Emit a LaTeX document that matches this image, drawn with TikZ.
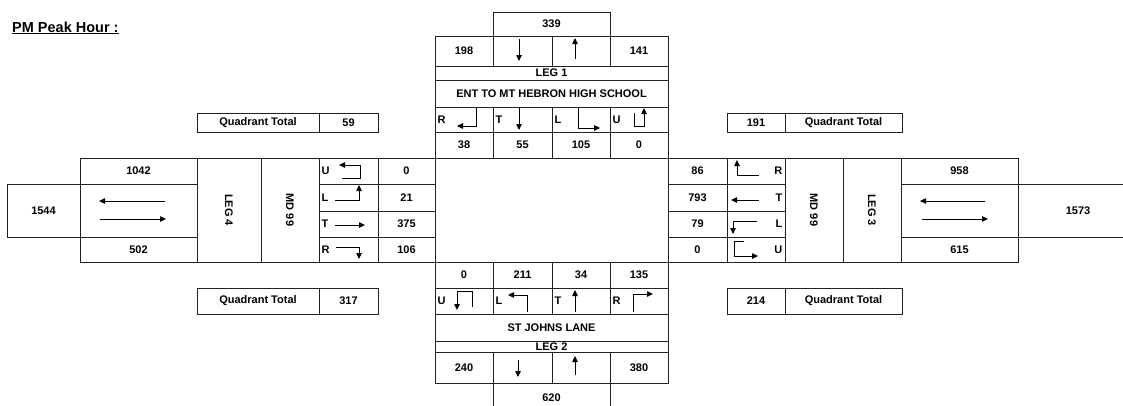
\documentclass[tikz,border=0pt]{standalone}
\usepackage{fontspec}
\setmainfont{Liberation Sans}
\usetikzlibrary{positioning,arrows.meta}
\definecolor{grid}{HTML}{222222}
\newcommand{\cellbox}[6]{\node[cell,minimum width={(#4-#2)*1pt},minimum height={(#5-#3)*1pt}] (#1) at ({(#2+#4)/2},{(#3+#5)/2}) {#6};}
\tikzset{
  cell/.style ={draw=grid, line width=.9pt, inner sep=0pt, outer sep=0pt, font=\fontsize{11}{12}\selectfont\bfseries},
  lbl/.style  ={inner sep=1pt, font=\fontsize{11}{12}\selectfont\bfseries},
  turn/.style ={draw=black, line width=.8pt, -{Triangle[length=6pt,width=5.5pt]}},
}

\begin{document}
\begin{tikzpicture}[x=1pt,y=-1pt]
  \useasboundingbox (0,0) rectangle (1123,405);
  \node[anchor=base west,inner sep=0pt,font=\fontsize{14.5}{16}\selectfont\bfseries] (title) at (12,32) {\underline{PM Peak Hour :}};

  % leg 1
  \cellbox{t339}{493}{12}{610}{36}{339}
  \cellbox{t198}{435}{36}{493}{66}{198}
  \cellbox{tin}{493}{36}{552}{66}{}
  \cellbox{tout}{552}{36}{610}{66}{}
  \cellbox{t141}{610}{36}{668}{66}{141}
  \cellbox{tleg}{435}{66}{668}{80}{LEG 1}
  \cellbox{tname}{435}{80}{668}{107}{ENT TO MT HEBRON HIGH SCHOOL}
  \cellbox{tR}{435}{107}{493}{132}{}
  \cellbox{tT}{493}{107}{552}{132}{}
  \cellbox{tL}{552}{107}{610}{132}{}
  \cellbox{tU}{610}{107}{668}{132}{}
  \cellbox{tvR}{435}{132}{493}{158}{38}
  \cellbox{tvT}{493}{132}{552}{158}{55}
  \cellbox{tvL}{552}{132}{610}{158}{105}
  \cellbox{tvU}{610}{132}{668}{158}{0}
  \node[lbl,right=1.5pt of tR.west] (tRl) {R};
  \node[lbl,right=1.5pt of tT.west] (tTl) {T};
  \node[lbl,right=1.5pt of tL.west] (tLl) {L};
  \node[lbl,right=1.5pt of tU.west] (tUl) {U};

  \cellbox{mid}{435}{158}{668}{262}{}

  % leg 4
  \cellbox{l1042}{80}{158}{197}{184}{1042}
  \cellbox{l1544}{7}{184}{80}{237}{1544}
  \cellbox{larr}{80}{184}{197}{237}{}
  \cellbox{l502}{80}{237}{197}{262}{502}
  \cellbox{lleg}{197}{158}{261}{262}{}
  \cellbox{lname}{261}{158}{319}{262}{}
  \cellbox{lU}{319}{158}{378}{184}{}
  \cellbox{lL}{319}{184}{378}{211}{}
  \cellbox{lT}{319}{211}{378}{237}{}
  \cellbox{lR}{319}{237}{378}{262}{}
  \cellbox{lvU}{378}{158}{435}{184}{0}
  \cellbox{lvL}{378}{184}{435}{211}{21}
  \cellbox{lvT}{378}{211}{435}{237}{375}
  \cellbox{lvR}{378}{237}{435}{262}{106}
  \node[lbl,rotate=-90] (lleg4) at (lleg) {LEG 4};
  \node[lbl,rotate=-90] (lmd) at (lname) {MD 99};
  \node[lbl,right=1.5pt of lU.west] (lUl) {U};
  \node[lbl,right=1.5pt of lL.west] (lLl) {L};
  \node[lbl,right=1.5pt of lT.west] (lTl) {T};
  \node[lbl,right=1.5pt of lR.west] (lRl) {R};

  % leg 3
  \cellbox{rvR}{668}{158}{727}{184}{86}
  \cellbox{rvT}{668}{184}{727}{211}{793}
  \cellbox{rvL}{668}{211}{727}{237}{79}
  \cellbox{rvU}{668}{237}{727}{262}{0}
  \cellbox{rR}{727}{158}{785}{184}{}
  \cellbox{rT}{727}{184}{785}{211}{}
  \cellbox{rL}{727}{211}{785}{237}{}
  \cellbox{rU}{727}{237}{785}{262}{}
  \cellbox{rname}{785}{158}{843}{262}{}
  \cellbox{rleg}{843}{158}{901}{262}{}
  \cellbox{r958}{901}{158}{1018}{184}{958}
  \cellbox{rarr}{901}{184}{1018}{237}{}
  \cellbox{r615}{901}{237}{1018}{262}{615}
  \cellbox{r1573}{1018}{184}{1138}{237}{1573}
  \node[lbl,rotate=-90] (rmd) at (rname) {MD 99};
  \node[lbl,rotate=-90] (rleg3) at (rleg) {LEG 3};
  \node[lbl,left=1.5pt of rR.east] (rRl) {R};
  \node[lbl,left=1.5pt of rT.east] (rTl) {T};
  \node[lbl,left=1.5pt of rL.east] (rLl) {L};
  \node[lbl,left=1.5pt of rU.east] (rUl) {U};

  % leg 2
  \cellbox{bvU}{435}{262}{493}{288}{0}
  \cellbox{bvL}{493}{262}{552}{288}{211}
  \cellbox{bvT}{552}{262}{610}{288}{34}
  \cellbox{bvR}{610}{262}{668}{288}{135}
  \cellbox{bU}{435}{288}{493}{314}{}
  \cellbox{bL}{493}{288}{552}{314}{}
  \cellbox{bT}{552}{288}{610}{314}{}
  \cellbox{bR}{610}{288}{668}{314}{}
  \cellbox{bname}{435}{314}{668}{341}{ST JOHNS LANE}
  \cellbox{bleg}{435}{341}{668}{352}{LEG 2}
  \cellbox{b240}{435}{352}{493}{383}{240}
  \cellbox{bin}{493}{352}{552}{383}{}
  \cellbox{bout}{552}{352}{610}{383}{}
  \cellbox{b380}{610}{352}{668}{383}{380}
  \cellbox{b620}{493}{383}{610}{412}{620}
  \node[lbl,right=1.5pt of bU.west] (bUl) {U};
  \node[lbl,right=1.5pt of bL.west] (bLl) {L};
  \node[lbl,right=1.5pt of bT.west] (bTl) {T};
  \node[lbl,right=1.5pt of bR.west] (bRl) {R};

  % quadrant totals
  \cellbox{qtlt}{197}{113}{319}{132}{Quadrant Total}
  \cellbox{qtlv}{319}{113}{378}{132}{59}
  \cellbox{qtrv}{727}{113}{785}{132}{191}
  \cellbox{qtrt}{785}{113}{902}{132}{Quadrant Total}
  \cellbox{qblt}{197}{288}{319}{314}{Quadrant Total}
  \cellbox{qblv}{319}{288}{378}{314}{317}
  \cellbox{qbrv}{727}{288}{785}{314}{214}
  \cellbox{qbrt}{785}{288}{902}{314}{Quadrant Total}

  % movement glyphs
  \draw[turn] (519,39) -- (519,61);
  \draw[turn] (575,59) -- (575,38);
  \draw[turn] (476,108) -- (476,126) -- (457,126);
  \draw[turn] (519,108) -- (519,130);
  \draw[turn] (578,108) -- (578,128) -- (600,128);
  \draw[turn] (634,113) -- (634,126) -- (644,126) -- (644,108);

  \draw[turn] (342,178) -- (360,178) -- (360,165) -- (339,165);
  \draw[turn] (335,200) -- (359,200) -- (359,185);
  \draw[turn] (335,225) -- (365,225);
  \draw[turn] (336,247) -- (359,247) -- (359,259);
  \draw[turn] (165,201) -- (99,201);
  \draw[turn] (100,219) -- (166,219);

  \draw[turn] (759,175) -- (737,175) -- (737,160);
  \draw[turn] (759,200) -- (731,200);
  \draw[turn] (757,221) -- (733,221) -- (733,234);
  \draw[turn] (744,241) -- (734,241) -- (734,256) -- (758,256);
  \draw[turn] (985,201) -- (920,201);
  \draw[turn] (922,219) -- (988,219);

  \draw[turn] (472,307) -- (472,291) -- (457,291) -- (457,310);
  \draw[turn] (527,312) -- (527,295) -- (508,295);
  \draw[turn] (575,312) -- (575,290);
  \draw[turn] (633,312) -- (633,294) -- (653,294);
  \draw[turn] (518,360) -- (518,377);
  \draw[turn] (575,375) -- (575,356);
\end{tikzpicture}
\end{document}
